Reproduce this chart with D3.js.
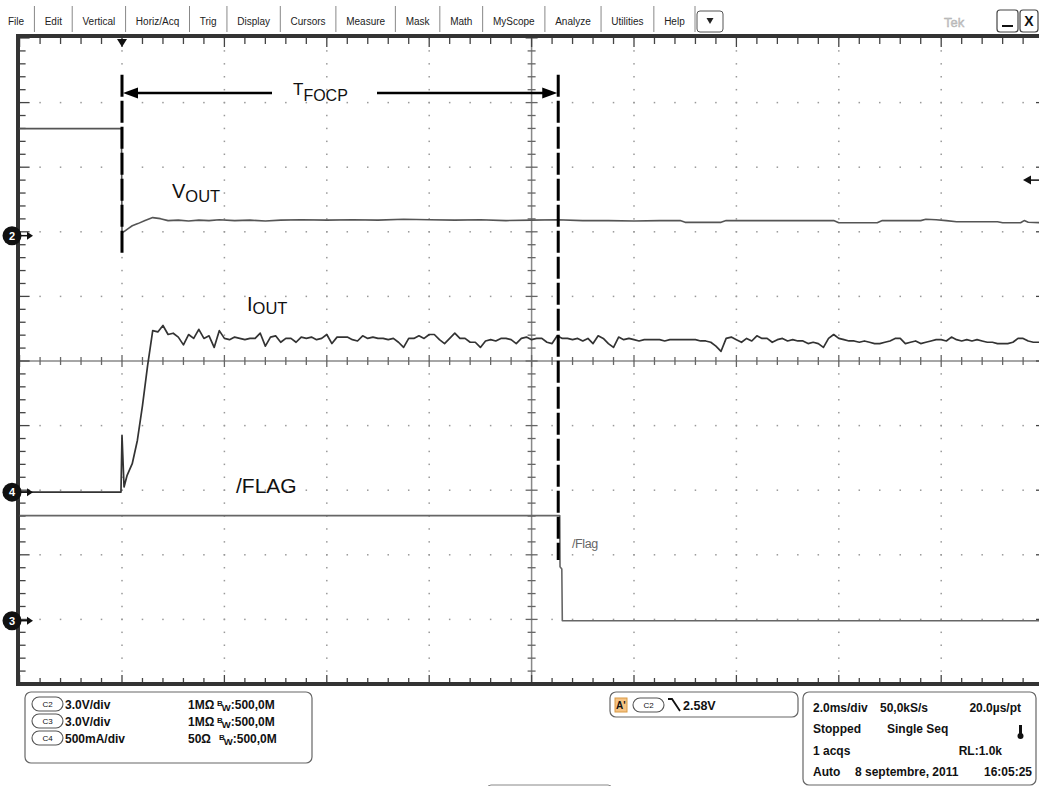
<!DOCTYPE html>
<html>
<head>
<meta charset="utf-8">
<script src="https://cdn.jsdelivr.net/npm/d3@7/dist/d3.min.js"></script>
<style>
  body { margin: 0; background: #fff; }
  svg { display: block; }
  text { font-family: "Liberation Sans", Arial, sans-serif; }
</style>
</head>
<body>
<svg id="scope" width="1039" height="786"></svg>
<script>
// ---------- data ----------
const menuItems = ["File", "Edit", "Vertical", "Horiz/Acq", "Trig", "Display", "Cursors",
  "Measure", "Mask", "Math", "MyScope", "Analyze", "Utilities", "Help"];

const channelNames = ["C2", "C3", "C4"];
const channelScale = ["3.0V/div", "3.0V/div", "500mA/div"];
const channelImpedance = ["1MΩ", "1MΩ", "50Ω"];
const channelBandwidth = [":500,0M", ":500,0M", ":500,0M"];
const unitsPerDiv = { C2: 3.0, C3: 3.0, C4: 0.5 };
const offsetDiv = { C2: 1.94, C3: -4.02, C4: -2.03 };

const timeRange = [-2, 18];   // ms, 2.0 ms/div, 10 div
const divRange = [-5, 5];
const recordStep = 0.1;       // ms between record points (I_OUT)

// C2 : V_OUT  [ms, V]
const vout = [[-2, 4.97], [-0.01, 4.97], [0, 0.14], [0.04, 0.19], [0.12, 0.33], [0.2, 0.46],
  [0.31, 0.56], [0.45, 0.70], [0.6, 0.84], [0.75, 0.79], [0.9, 0.70], [1.1, 0.72], [1.3, 0.68],
  [1.5, 0.72], [1.7, 0.70], [1.9, 0.74], [2.2, 0.70], [2.5, 0.72], [2.8, 0.68], [3.1, 0.72],
  [3.5, 0.74], [4.0, 0.72], [4.5, 0.74], [5.0, 0.72], [5.5, 0.76], [6.0, 0.74], [6.5, 0.72],
  [7.0, 0.74], [7.5, 0.70], [8.0, 0.72], [8.5, 0.74], [9.0, 0.70], [9.5, 0.70], [10.0, 0.68],
  [10.5, 0.70], [10.9, 0.70], [11.0, 0.62], [11.7, 0.62], [11.8, 0.70], [12.5, 0.70],
  [13.0, 0.70], [13.9, 0.70], [14.0, 0.60], [14.75, 0.60], [14.85, 0.70], [15.6, 0.70],
  [15.7, 0.76], [15.9, 0.74], [16.1, 0.70], [16.3, 0.65], [17.1, 0.65], [17.2, 0.60],
  [17.55, 0.60], [17.62, 0.70], [17.7, 0.62], [18, 0.60]];

// C4 : I_OUT  turn-on edge [ms, A]
const ioutEdge = [[-2, 0], [-0.02, 0], [0, 0.44], [0.04, 0.04], [0.1, 0.13], [0.2, 0.22],
  [0.3, 0.40], [0.4, 0.67], [0.5, 0.98]];
// C4 : I_OUT  record from 0.6 ms, one value every recordStep [A]
const ioutStart = 0.6;
const ioutRecord = [
  1.25, 1.24, 1.29, 1.22, 1.23, 1.20, 1.14, 1.22, 1.19, 1.26,
  1.19, 1.21, 1.12, 1.25, 1.19, 1.18, 1.20, 1.19, 1.18, 1.19,
  1.19, 1.23, 1.13, 1.20, 1.21, 1.16, 1.19, 1.19, 1.16, 1.20,
  1.19, 1.20, 1.18, 1.19, 1.22, 1.15, 1.20, 1.20, 1.20, 1.18,
  1.17, 1.21, 1.19, 1.20, 1.19, 1.19, 1.18, 1.19, 1.16, 1.12,
  1.19, 1.19, 1.21, 1.19, 1.22, 1.22, 1.18, 1.15, 1.19, 1.23,
  1.19, 1.19, 1.16, 1.16, 1.12, 1.17, 1.18, 1.17, 1.19, 1.19,
  1.18, 1.15, 1.19, 1.20, 1.18, 1.19, 1.19, 1.16, 1.15, 1.21,
  1.19, 1.19, 1.18, 1.19, 1.17, 1.19, 1.15, 1.21, 1.19, 1.15,
  1.12, 1.20, 1.18, 1.19, 1.18, 1.17, 1.18, 1.18, 1.18, 1.18,
  1.17, 1.18, 1.18, 1.18, 1.18, 1.18, 1.18, 1.17, 1.17, 1.16,
  1.13, 1.09, 1.19, 1.20, 1.18, 1.16, 1.19, 1.17, 1.21, 1.19,
  1.19, 1.16, 1.18, 1.19, 1.17, 1.18, 1.17, 1.17, 1.15, 1.16,
  1.15, 1.12, 1.19, 1.22, 1.19, 1.18, 1.17, 1.17, 1.16, 1.17,
  1.16, 1.15, 1.15, 1.16, 1.17, 1.19, 1.19, 1.15, 1.16, 1.17,
  1.15, 1.16, 1.17, 1.18, 1.18, 1.17, 1.20, 1.18, 1.17, 1.18,
  1.17, 1.18, 1.17, 1.16, 1.16, 1.15, 1.15, 1.15, 1.16, 1.19,
  1.19, 1.17, 1.16, 1.16, 1.16];

// C3 : /FLAG  [ms, V]
const flag = [[-2, 4.88], [8.55, 4.88], [8.555, 2.5], [8.59, 2.4], [8.6, 0], [18, 0]];

const tFocp = [0, 8.52];      // ms, dashed markers
const triggerLevel = 2.58;    // V on C2
const acqInfo = [
  ["2.0ms/div", "50,0kS/s", "20.0µs/pt"],
  ["Stopped", "Single Seq", ""],
  ["1 acqs", "", "RL:1.0k"],
  ["Auto", "8 septembre, 2011", "16:05:25"]];

// ---------- scales ----------
const svg = d3.select("#scope");
const x = d3.scaleLinear().domain(timeRange).range([19.6, 1043.6]);
const y = d3.scaleLinear().domain(divRange).range([684, 38]);
const yCh = (ch, v) => y(offsetDiv[ch] + v / unitsPerDiv[ch]);

svg.append("rect").attr("width", 1039).attr("height", 786).attr("fill", "#fff");

// ---------- menu bar ----------
const menu = svg.append("g");
const menuTexts = menu.selectAll("text.menu").data(menuItems).enter().append("text")
  .attr("class", "menu").attr("y", 25).attr("font-size", 10).attr("fill", "#222")
  .text(d => d);
const widths = [];
menuTexts.each(function () { widths.push(this.getComputedTextLength()); });
const gap = (687 - d3.sum(widths)) / (2 * menuItems.length - 1);
let mx = 8;
menuTexts.each(function (d, i) {
  d3.select(this).attr("x", mx);
  const sx = mx + widths[i] + gap;
  menu.append("line").attr("x1", sx).attr("x2", sx).attr("y1", 6).attr("y2", 32)
    .attr("stroke", "#888").attr("stroke-width", 1);
  mx = sx + gap;
});
menu.append("rect").attr("x", 697).attr("y", 11).attr("width", 26).attr("height", 21).attr("rx", 3)
  .attr("fill", "#fff").attr("stroke", "#555");
menu.append("path").attr("d", "M706.5,18 L713.5,18 L710,24 Z").attr("fill", "#222");
menu.append("text").attr("x", 944).attr("y", 27).attr("font-size", 13).attr("fill", "#ccc")
  .attr("stroke", "#aaa").attr("stroke-width", 0.4).text("Tek");
menu.append("rect").attr("x", 997).attr("y", 10).attr("width", 21).attr("height", 22).attr("rx", 3)
  .attr("fill", "#fff").attr("stroke", "#444").attr("stroke-width", 1.2);
menu.append("line").attr("x1", 1002).attr("x2", 1013).attr("y1", 26).attr("y2", 26)
  .attr("stroke", "#111").attr("stroke-width", 2);
menu.append("rect").attr("x", 1020).attr("y", 10).attr("width", 18).attr("height", 22).attr("rx", 3)
  .attr("fill", "#fff").attr("stroke", "#444").attr("stroke-width", 1.2);
menu.append("text").attr("x", 1029).attr("y", 26).attr("text-anchor", "middle")
  .attr("font-size", 14).attr("font-weight", "bold").attr("fill", "#111").text("X");

// ---------- graticule ----------
const grid = svg.append("g");
const minorT = d3.range(timeRange[0], timeRange[1] + 0.001, 0.4);
const minorD = d3.range(divRange[0], divRange[1] + 0.001, 0.2);
const majorT = d3.range(timeRange[0] + 2, timeRange[1], 2).filter(t => t !== 8);
const majorD = d3.range(-4, 5, 1).filter(d => d !== 0);

majorT.forEach(t => {
  grid.selectAll(null).data(minorD).enter().append("rect")
    .attr("x", x(t) - 0.75).attr("y", d => y(d) - 0.75).attr("width", 1.5).attr("height", 1.5)
    .attr("fill", "#999");
});
majorD.forEach(dv => {
  grid.selectAll(null).data(minorT).enter().append("rect")
    .attr("x", t => x(t) - 0.75).attr("y", y(dv) - 0.75).attr("width", 1.5).attr("height", 1.5)
    .attr("fill", "#999");
});

// center cross with ticks
const isMajorT = t => Math.abs(Math.round(t / 2) * 2 - t) < 0.01;
const isMajorD = d => Math.abs(Math.round(d) - d) < 0.01;
grid.append("line").attr("x1", x(8)).attr("x2", x(8)).attr("y1", y(5)).attr("y2", y(-5))
  .attr("stroke", "#888").attr("stroke-width", 1.5);
grid.append("line").attr("x1", x(-2)).attr("x2", x(18)).attr("y1", y(0)).attr("y2", y(0))
  .attr("stroke", "#888").attr("stroke-width", 1.5);
grid.selectAll(null).data(minorD).enter().append("line")
  .attr("x1", d => x(8) - (isMajorD(d) ? 6 : 4)).attr("x2", d => x(8) + (isMajorD(d) ? 6 : 4))
  .attr("y1", d => y(d)).attr("y2", d => y(d)).attr("stroke", "#666").attr("stroke-width", 1.3);
grid.selectAll(null).data(minorT).enter().append("line")
  .attr("y1", t => y(0) - (isMajorT(t) ? 6 : 4)).attr("y2", t => y(0) + (isMajorT(t) ? 6 : 4))
  .attr("x1", t => x(t)).attr("x2", t => x(t)).attr("stroke", "#666").attr("stroke-width", 1.3);

// frame and edge ticks
const frame = svg.append("g");
frame.selectAll(null).data(minorT).enter().append("line")
  .attr("x1", t => x(t)).attr("x2", t => x(t)).attr("y1", y(5))
  .attr("y2", t => y(5) + (isMajorT(t) ? 9 : 6)).attr("stroke", "#444").attr("stroke-width", 1.3);
frame.selectAll(null).data(minorT).enter().append("line")
  .attr("x1", t => x(t)).attr("x2", t => x(t)).attr("y1", y(-5))
  .attr("y2", t => y(-5) - (isMajorT(t) ? 9 : 6)).attr("stroke", "#444").attr("stroke-width", 1.3);
frame.selectAll(null).data(minorD).enter().append("line")
  .attr("x1", x(-2)).attr("x2", d => x(-2) + (isMajorD(d) ? 10 : 6))
  .attr("y1", d => y(d)).attr("y2", d => y(d)).attr("stroke", "#444").attr("stroke-width", 1.3);
frame.selectAll(null).data(d3.range(-4, 5, 1)).enter().append("line")
  .attr("x1", 1036).attr("x2", 1039).attr("y1", d => y(d)).attr("y2", d => y(d))
  .attr("stroke", "#444").attr("stroke-width", 1.3);
frame.append("line").attr("x1", 16).attr("x2", 1039).attr("y1", y(5) - 2).attr("y2", y(5) - 2)
  .attr("stroke", "#333").attr("stroke-width", 4);
frame.append("line").attr("x1", 16).attr("x2", 1039).attr("y1", y(-5)).attr("y2", y(-5))
  .attr("stroke", "#333").attr("stroke-width", 4);
frame.append("line").attr("x1", 18).attr("x2", 18).attr("y1", y(5) - 4).attr("y2", y(-5) + 2)
  .attr("stroke", "#333").attr("stroke-width", 4);

// ---------- traces ----------
const traces = svg.append("g").attr("fill", "none").attr("stroke-linejoin", "round");
const lineFor = ch => d3.line().x(d => x(d[0])).y(d => yCh(ch, d[1]));
const ioutData = ioutEdge.concat(ioutRecord.map((v, i) => [ioutStart + i * recordStep, v]));

traces.append("path").datum(flag).attr("d", lineFor("C3"))
  .attr("stroke", "#666").attr("stroke-width", 1.6);
traces.append("path").datum(vout).attr("d", lineFor("C2"))
  .attr("stroke", "#555").attr("stroke-width", 1.6);
traces.append("path").datum(ioutData).attr("d", lineFor("C4"))
  .attr("stroke", "#333").attr("stroke-width", 1.7);

// ---------- annotations ----------
const ann = svg.append("g");
const dashTop = y(4.43);
ann.append("line").attr("x1", x(tFocp[0])).attr("x2", x(tFocp[0]))
  .attr("y1", dashTop).attr("y2", y(1.64))
  .attr("stroke", "#000").attr("stroke-width", 3).attr("stroke-dasharray", "22,4");
ann.append("line").attr("x1", x(tFocp[1])).attr("x2", x(tFocp[1]))
  .attr("y1", dashTop).attr("y2", y(-3.08))
  .attr("stroke", "#000").attr("stroke-width", 3).attr("stroke-dasharray", "22,4");

const ay = y(4.15);
const xa = x(tFocp[0]), xb = x(tFocp[1]);
ann.append("line").attr("x1", xa + 10).attr("x2", 272).attr("y1", ay).attr("y2", ay)
  .attr("stroke", "#000").attr("stroke-width", 2.5);
ann.append("line").attr("x1", 377).attr("x2", xb - 10).attr("y1", ay).attr("y2", ay)
  .attr("stroke", "#000").attr("stroke-width", 2.5);
ann.append("path").attr("d", `M${xa + 1},${ay} L${xa + 16},${ay - 5.5} L${xa + 16},${ay + 5.5} Z`)
  .attr("fill", "#000");
ann.append("path").attr("d", `M${xb - 1},${ay} L${xb - 16},${ay - 5.5} L${xb - 16},${ay + 5.5} Z`)
  .attr("fill", "#000");

function subLabel(px, py, main, sub, mainSize, subSize, drop) {
  const t = ann.append("text").attr("x", px).attr("y", py).attr("fill", "#111");
  t.append("tspan").attr("font-size", mainSize).text(main);
  t.append("tspan").attr("font-size", subSize).attr("dy", drop).text(sub);
}
subLabel(293, 95, "T", "FOCP", 17, 16, 6);
subLabel(172, 198, "V", "OUT", 20, 16.5, 4);
subLabel(247, 311, "I", "OUT", 20, 16.5, 3);
ann.append("text").attr("x", 236).attr("y", 493).attr("font-size", 21).attr("fill", "#111").text("/FLAG");
ann.append("text").attr("x", 572).attr("y", 548).attr("font-size", 12.5).attr("fill", "#666")
  .attr("letter-spacing", -0.4).text("/Flag");

// trigger position and level markers
ann.append("path").attr("d", `M${xa - 5},39 L${xa + 5},39 L${xa},47 Z`).attr("fill", "#111");
const ty = yCh("C2", triggerLevel);
ann.append("path").attr("d", `M1023,${ty} L1031,${ty - 4.5} L1031,${ty + 4.5} Z`).attr("fill", "#111");
ann.append("line").attr("x1", 1030).attr("x2", 1039).attr("y1", ty).attr("y2", ty)
  .attr("stroke", "#111").attr("stroke-width", 1.5);

// channel ground markers
const markers = [["C2", "2"], ["C4", "4"], ["C3", "3"]];
markers.forEach(([ch, label]) => {
  const my = y(offsetDiv[ch]);
  ann.append("line").attr("x1", 20).attr("x2", 28).attr("y1", my).attr("y2", my)
    .attr("stroke", "#111").attr("stroke-width", 1.5);
  ann.append("path").attr("d", `M27,${my - 4} L33,${my} L27,${my + 4} Z`).attr("fill", "#111");
  ann.append("circle").attr("cx", 12).attr("cy", my).attr("r", 9.5).attr("fill", "#111");
  ann.append("text").attr("x", 12).attr("y", my + 4).attr("text-anchor", "middle")
    .attr("font-size", 11).attr("font-weight", "bold").attr("fill", "#fff").text(label);
});

// ---------- readout panels ----------
const info = svg.append("g").attr("font-weight", "bold").attr("font-size", 12).attr("fill", "#111");
function pill(px, py, label) {
  info.append("rect").attr("x", px).attr("y", py - 7).attr("width", 31).attr("height", 14).attr("rx", 7)
    .attr("fill", "#fff").attr("stroke", "#555").attr("stroke-width", 1.1);
  info.append("text").attr("x", px + 15.5).attr("y", py + 3).attr("text-anchor", "middle")
    .attr("font-size", 8).attr("font-weight", "normal").text(label);
}
info.append("rect").attr("x", 25).attr("y", 692).attr("width", 287).attr("height", 71).attr("rx", 6)
  .attr("fill", "none").attr("stroke", "#666").attr("stroke-width", 1.2);
channelNames.forEach((ch, i) => {
  const ry = 704 + i * 17;
  pill(32, ry, ch);
  info.append("text").attr("x", 65).attr("y", ry + 4.5).text(channelScale[i]);
  info.append("text").attr("x", 188).attr("y", ry + 4.5).text(channelImpedance[i]);
  const bx = i === 2 ? 219 : 217;
  const bw = info.append("text").attr("x", bx).attr("y", ry + 4.5);
  bw.append("tspan").attr("font-size", 8).attr("dy", -3).text("B");
  bw.append("tspan").attr("font-size", 9.5).attr("dy", 5).attr("dx", -1).text("W");
  bw.append("tspan").attr("dy", -2).text(channelBandwidth[i]);
});

info.append("rect").attr("x", 610).attr("y", 692).attr("width", 188).attr("height", 25).attr("rx", 6)
  .attr("fill", "none").attr("stroke", "#666").attr("stroke-width", 1.2);
info.append("rect").attr("x", 615).attr("y", 698).attr("width", 12).attr("height", 14)
  .attr("fill", "#f6c383").attr("stroke", "#d99a44");
info.append("text").attr("x", 616).attr("y", 709).attr("font-size", 10).text("A'");
pill(633, 705, "C2");
info.append("path").attr("d", "M668,699 L672,699 L680,711").attr("fill", "none")
  .attr("stroke", "#111").attr("stroke-width", 1.8);
info.append("text").attr("x", 683).attr("y", 709.5).attr("font-size", 12.5)
  .text(triggerLevel.toFixed(2) + "V");

info.append("rect").attr("x", 803).attr("y", 692).attr("width", 233).attr("height", 93).attr("rx", 6)
  .attr("fill", "none").attr("stroke", "#666").attr("stroke-width", 1.2);
// first two columns left aligned, last column right aligned
const colX = [[813, 880, 1021], [813, 887, 0], [813, 0, 1002], [813, 855, 1032]];
acqInfo.forEach((row, r) => {
  row.forEach((s, c) => {
    if (s) info.append("text").attr("x", colX[r][c]).attr("y", 711.5 + r * 21.5)
      .attr("text-anchor", c === 2 ? "end" : "start").text(s);
  });
});
// thermometer icon
info.append("rect").attr("x", 1019).attr("y", 725).attr("width", 3).attr("height", 10).attr("fill", "#111");
info.append("circle").attr("cx", 1020.5).attr("cy", 736).attr("r", 3).attr("fill", "#111");

// bottom stub of the next panel
info.append("rect").attr("x", 487).attr("y", 785).attr("width", 125).attr("height", 20).attr("rx", 4)
  .attr("fill", "none").attr("stroke", "#888").attr("stroke-width", 1);
</script>
</body>
</html>
